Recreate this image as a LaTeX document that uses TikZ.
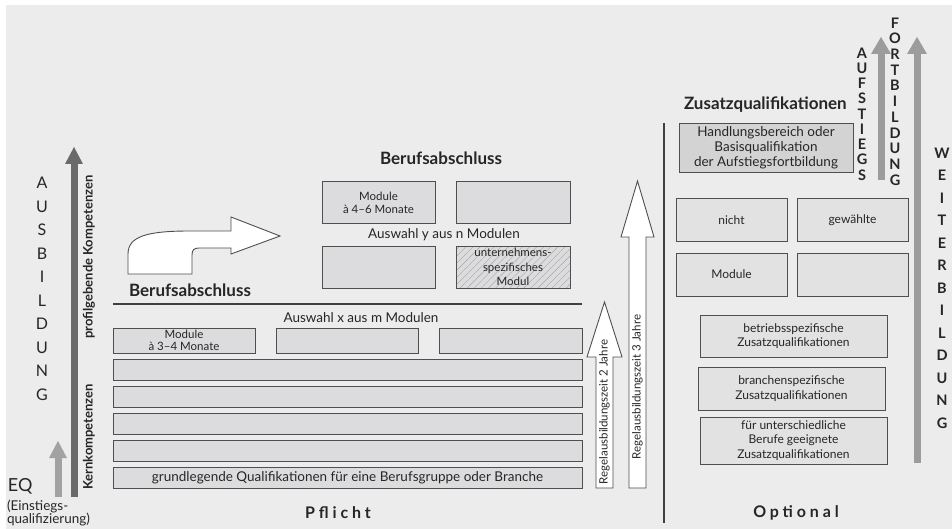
\documentclass[tikz,border=0pt]{standalone}
\usepackage{fontspec}
\setmainfont{Lato}
\newfontfamily\spacedfont[LetterSpace=24]{Lato}
\usetikzlibrary{patterns.meta}
\definecolor{bgc}{HTML}{ECECEC}
\definecolor{boxc}{HTML}{DCDCDE}
\definecolor{boxr}{HTML}{E2E2E2}
\definecolor{boxh}{HTML}{D3D3D3}
\definecolor{bdr}{HTML}{4F4F4F}
\definecolor{darkarr}{HTML}{6A6A6A}
\definecolor{lightarr}{HTML}{A2A2A2}
\definecolor{rightarr}{HTML}{9C9C9C}
\definecolor{txt}{HTML}{262626}
\begin{document}
\begin{tikzpicture}[x=1pt,y=-1pt,
  every node/.style={text=txt, inner sep=0pt, outer sep=0pt},
  box/.style={draw=bdr, fill=boxc, line width=1pt, align=center,
    font=\fontsize{11.5}{12.5}\selectfont},
  rbox/.style={box, fill=boxr, font=\fontsize{12}{14.5}\selectfont},
  hatchbox/.style={box, preaction={fill=boxc},
    pattern={Lines[angle=45,distance=5pt,line width=0.4pt]}, pattern color=black!35,
    font=\fontsize{11.5}{14.5}\selectfont},
  whitearrow/.style={draw=bdr, fill=white, line width=0.9pt, line join=miter},
  headline/.style={font=\fontsize{17}{18}\selectfont\bfseries},
  label/.style={font=\fontsize{13.5}{15}\selectfont},
  vletters/.style={align=center, font=\fontsize{14.5}{#1}\selectfont\bfseries},
  sidetext/.style={rotate=90, font=\fontsize{13}{14}\selectfont\bfseries},
  arrowtext/.style={rotate=90, font=\fontsize{11.5}{12}\selectfont},
  divider/.style={draw=black!75, line width=1.4pt}
]
\useasboundingbox (0,0) rectangle (952,529);
\fill[white] (0,0) rectangle (952,529);
\fill[bgc] (6,5) rectangle (952,529);

% ---------- left: Ausbildung ----------
\fill[darkarr] (70.5,497) rectangle (77.5,162);
\fill[darkarr] (65,164) -- (74,147) -- (83,164) -- cycle;
\fill[lightarr] (54.5,497) rectangle (61.5,456);
\fill[lightarr] (49,458) -- (58,441) -- (67,458) -- cycle;
\node[align=center, font=\fontsize{16}{23.5}\selectfont] (ausb) at (42,289)
  {A\\U\\S\\B\\I\\L\\D\\U\\N\\G};
\node[sidetext] (profil) at (89,257) {profilgebende Kompetenzen};
\node[sidetext] (kern) at (89,437) {Kernkompetenzen};
\node[anchor=west, font=\fontsize{18}{18}\selectfont] (eq) at (8,486) {EQ};
\node[anchor=west, align=left, font=\fontsize{13.5}{13.5}\selectfont] (eqtext) at (7,513)
  {(Einstiegs-\\qualifizierung)};

% ---------- Pflicht ----------
\node[headline] (ba1) at (441,158) {Berufsabschluss};
\node[box] (m46a) at (378.5,203) [minimum width=113, minimum height=42] {Module\\à 4–6 Monate};
\node[box] (m46b) at (513,203) [minimum width=114, minimum height=42] {};
\node[label] (ausy) at (444,235) {Auswahl y aus n Modulen};
\node[box] (m46c) at (378.5,267) [minimum width=113, minimum height=42] {};
\node[hatchbox] (m46d) at (513,267) [minimum width=114, minimum height=42] {unternehmens-\\spezifisches\\Modul};

\draw[whitearrow] (128,274) -- (128,254) .. controls (128,236) and (148,231) .. (190,231)
  -- (231,231) -- (231,217) -- (280,236) -- (231,254) -- (231,248) -- (199,248)
  .. controls (194,248) and (192,250) .. (192,255) -- (192,274) -- cycle;
\node[headline, anchor=west] (ba2) at (129,290) {Berufsabschluss};

\draw[divider] (113,304) -- (582,304);
\node[label] (ausx) at (361,318) {Auswahl x aus m Modulen};
\node[box] (m34a) at (184,340.5) [minimum width=142, minimum height=25] {Module\\à 3–4 Monate};
\node[box] (m34b) at (347,340.5) [minimum width=142, minimum height=25] {};
\node[box] (m34c) at (510.5,340.5) [minimum width=143, minimum height=25] {};
\foreach \i/\yy in {1/369.5,2/396.5,3/423.5,4/450.5} {
  \node[box] (row\i) at (347.5,\yy) [minimum width=469, minimum height=21] {};
}
\node[box, font=\fontsize{13.5}{14}\selectfont] (row5) at (347.5,477.5) [minimum width=469, minimum height=21]
  {grundlegende Qualifikationen für eine Berufsgruppe oder Branche};
\node[font=\fontsize{16}{16}\selectfont\spacedfont\bfseries] (pflicht) at (338,513) {Pflicht};

% Regelausbildungszeit arrows
\draw[whitearrow] (596,488) -- (596,357) -- (587,357) -- (604.5,302) -- (622,357) -- (613,357) -- (613,488) -- cycle;
\node[arrowtext] (r2) at (604.5,412) {Regelausbildungszeit 2 Jahre};
\draw[whitearrow] (629,488) -- (629,237) -- (621,237) -- (637.5,181) -- (654,237) -- (646,237) -- (646,488) -- cycle;
\node[arrowtext] (r3) at (637.5,387) {Regelausbildungszeit 3 Jahre};

\draw[divider, line width=1.2pt] (664,123) -- (664,523);

% ---------- right: Optional ----------
\node[font=\fontsize{17}{18}\selectfont\bfseries, anchor=west] (zq) at (684,105) {Zusatzqualifikationen};
\node[rbox, fill=boxh, font=\fontsize{13.5}{15}\selectfont] (hb) at (766,148) [minimum width=174, minimum height=49]
  {Handlungsbereich oder\\Basisqualifikation\\der Aufstiegsfortbildung};
\node[rbox] (nicht) at (731.5,220.5) [minimum width=111, minimum height=43] {nicht};
\node[rbox] (gew) at (852.5,220.5) [minimum width=111, minimum height=43] {gewählte};
\node[rbox] (mod) at (731.5,274.5) [minimum width=111, minimum height=43] {Module};
\node[rbox] (leer) at (852.5,274.5) [minimum width=111, minimum height=43] {};
\node[rbox] (betr) at (793.5,336) [minimum width=187, minimum height=42] {betriebsspezifische\\Zusatzqualifikationen};
\node[rbox] (bran) at (791.5,388.5) [minimum width=187, minimum height=43] {branchenspezifische\\Zusatzqualifikationen};
\node[rbox] (fuer) at (793.5,440.5) [minimum width=187, minimum height=47] {für unterschiedliche\\Berufe geeignete\\Zusatzqualifikationen};
\node[font=\fontsize{16}{16}\selectfont\spacedfont\bfseries] (optional) at (796,513) {Optional};

% Aufstieg / Weiterbildung arrows
\fill[rightarr] (877.5,180) rectangle (884.5,52);
\fill[rightarr] (871,54) -- (881,37) -- (891,54) -- cycle;
\fill[rightarr] (913.5,463) rectangle (920.5,52);
\fill[rightarr] (907,54) -- (917,37) -- (927,54) -- cycle;
\node[vletters=15.25] (aufst) at (862,114) {A\\U\\F\\S\\T\\I\\E\\G\\S};
\node[vletters=15.7] (fortb) at (895,101.5) {F\\O\\R\\T\\B\\I\\L\\D\\U\\N\\G};
\node[vletters=22.5] (weiter) at (942,288) {W\\E\\I\\T\\E\\R\\B\\I\\L\\D\\U\\N\\G};
\end{tikzpicture}
\end{document}
